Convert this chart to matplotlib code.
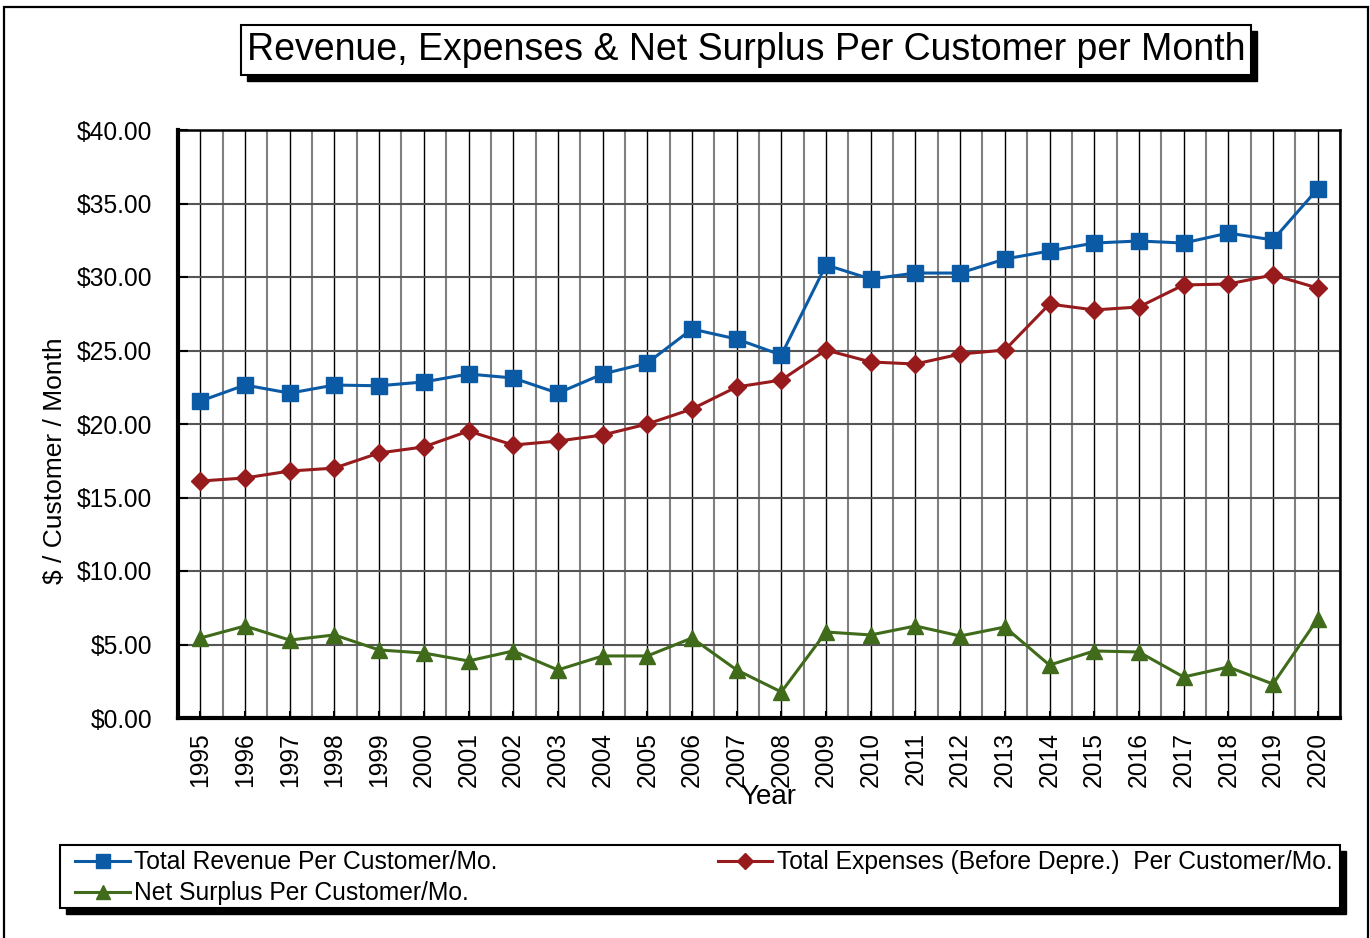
import matplotlib
matplotlib.use("Agg")
import matplotlib.pyplot as plt
from matplotlib.patches import Rectangle
from matplotlib.ticker import FixedLocator, FuncFormatter

plt.rcParams["font.family"] = ["Liberation Sans", "DejaVu Sans"]

years = [str(y) for y in range(1995, 2021)]
revenue = [21.56, 22.65, 22.10, 22.65, 22.60, 22.86, 23.40, 23.13, 22.10, 23.40,
           24.15, 26.46, 25.78, 24.69, 30.82, 29.86, 30.27, 30.27, 31.22, 31.77,
           32.31, 32.45, 32.31, 32.99, 32.52, 35.99]
expenses = [16.12, 16.33, 16.80, 17.00, 18.03, 18.44, 19.52, 18.57, 18.84, 19.25,
            20.00, 21.02, 22.52, 22.99, 25.03, 24.22, 24.08, 24.76, 25.03, 28.16,
            27.76, 27.96, 29.46, 29.52, 30.14, 29.25]
net_surplus = [5.44, 6.26, 5.30, 5.65, 4.63, 4.42, 3.88, 4.56, 3.27, 4.22,
               4.22, 5.44, 3.27, 1.77, 5.85, 5.65, 6.26, 5.58, 6.19, 3.60,
               4.56, 4.49, 2.79, 3.47, 2.31, 6.73]

W, H = 1370, 938


def fx(px):
    return px / W


def fy(py):
    return 1 - py / H


def boxed(fig, x0, y0, x1, y1, shadow=6):
    # white box with black drop shadow, pixel coords from top-left
    fig.add_artist(Rectangle((fx(x0 + shadow), fy(y1 + shadow)), fx(x1 - x0), (y1 - y0) / H,
                             transform=fig.transFigure, facecolor="black", edgecolor="black", zorder=1))
    fig.add_artist(Rectangle((fx(x0), fy(y1)), fx(x1 - x0), (y1 - y0) / H,
                             transform=fig.transFigure, facecolor="white", edgecolor="black",
                             lw=1.5, zorder=2))


fig = plt.figure(figsize=(W / 100, H / 100), dpi=100)
fig.add_artist(Rectangle((fx(4), fy(960)), fx(1364), 953 / H, transform=fig.transFigure,
                         facecolor="none", edgecolor="black", lw=1.6, zorder=0))

ax = fig.add_axes([fx(178), fy(718), fx(1340 - 178), (718 - 130) / H])
x = list(range(len(years)))
l_rev, = ax.plot(x, revenue, color="#0a5aa6", lw=2.2, marker="s", ms=11.5, zorder=5)
l_exp, = ax.plot(x, expenses, color="#971a1c", lw=2.2, marker="D", ms=9, zorder=5)
l_net, = ax.plot(x, net_surplus, color="#3f6b1b", lw=2.2, marker="^", ms=11, zorder=5)

ax.set_xlim(-0.5, len(years) - 0.5)
ax.set_ylim(0, 40)
ax.set_xticks(x)
ax.set_xticklabels(years, rotation=90, fontsize=17.7)
ax.xaxis.set_minor_locator(FixedLocator([i - 0.5 for i in range(len(years) + 1)]))
ax.set_yticks(range(0, 41, 5))
ax.yaxis.set_major_formatter(FuncFormatter(lambda v, _: f"${v:.2f}"))
ax.tick_params(axis="y", labelsize=17.7, direction="in", length=7, width=1.5, pad=18.5)
ax.tick_params(axis="x", which="major", direction="in", length=5, width=1.5, pad=10)
ax.tick_params(axis="x", which="minor", length=0)
ax.grid(axis="x", which="major", color="black", lw=1.0)
ax.grid(axis="x", which="minor", color="#808080", lw=1.5)
ax.grid(axis="y", color="#555555", lw=1.5)
ax.set_axisbelow(True)
for side in ("left", "bottom"):
    ax.spines[side].set_linewidth(3)
for side in ("top", "right"):
    ax.spines[side].set_linewidth(1.8)

fig.text(fx(55), fy(461), "$ / Customer / Month", rotation=90, ha="center", va="center", fontsize=19)
fig.text(fx(768), fy(797), "Year", ha="center", va="center", fontsize=20)

boxed(fig, 241, 25, 1251, 75, shadow=6)
fig.text(fx(746), fy(50), "Revenue, Expenses & Net Surplus Per Customer per Month",
         ha="center", va="center", fontsize=27, zorder=3)

boxed(fig, 60, 845, 1340, 908, shadow=6)
fig.legend([l_rev, l_net, l_exp],
           ["Total Revenue Per Customer/Mo.", "Net Surplus Per Customer/Mo.",
            "Total Expenses (Before Depre.)  Per Customer/Mo."],
           loc="upper left", bbox_to_anchor=(fx(73), fy(908), fx(1262), 60 / H),
           mode="expand", ncol=2, frameon=False, fontsize=17.7, handlelength=2.2,
           handletextpad=0.2, labelspacing=0.28, borderpad=0.1, borderaxespad=0,
           markerscale=0.9)

fig.savefig("out.png", dpi=100)
